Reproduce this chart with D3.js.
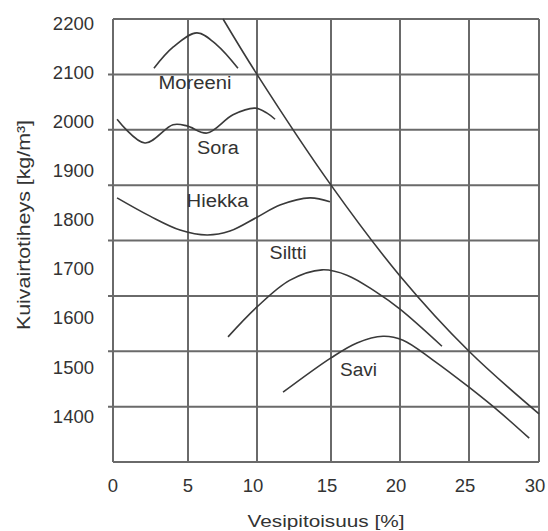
<!DOCTYPE html>
<html><head><meta charset="utf-8">
<script src="https://cdn.jsdelivr.net/npm/d3@7"></script>
<style>body{margin:0;background:#fff}svg{display:block}text{font-family:"Liberation Sans",Arial,sans-serif;fill:#333}</style>
</head><body><svg id="c" width="548" height="531"></svg>
<script>
// Data
const xTicks = [0, 5, 10, 15, 20, 25, 30];
const yTicks = [1400, 1500, 1600, 1700, 1800, 1900, 2000, 2100, 2200];
const xTitle = "Vesipitoisuus [%]";
const yTitle = "Kuivairtotiheys [kg/m³]";

const moreeniW = [2.73, 4.0, 5.65, 7.1, 8.62];
const moreeniD = [2111, 2149, 2175, 2153, 2111];
const soraW = [0.27, 2.13, 4.0, 4.93, 6.38, 8.26, 9.86, 10.68, 11.22];
const soraD = [2019, 1976, 2009, 2007, 1994, 2027, 2039, 2030, 2019];
const hiekkaW = [0.27, 2.47, 4.47, 6.38, 8.04, 10, 11.55, 13.58, 14.93];
const hiekkaD = [1877, 1844, 1819, 1810, 1817, 1842, 1864, 1877, 1870];
const silttiW = [7.9, 10, 12.2, 14.4, 16.2, 18.2, 20, 23.04];
const silttiD = [1626, 1680, 1728, 1747, 1737, 1708, 1676, 1609];
const saviW = [11.76, 15, 16.88, 18.77, 20.22, 22.39, 25, 27.2, 29.3];
const saviD = [1526, 1588, 1615, 1627, 1620, 1584, 1535, 1490, 1443];
const zavW = [7.54, 10, 15, 20, 25, 30];
const zavD = [2200, 2100, 1900, 1736, 1600, 1487];

const labels = ["Moreeni", "Sora", "Hiekka", "Siltti", "Savi"];
const labelW = [5.5, 7.17, 7.14, 12.1, 16.99];
const labelD = [2074, 1956, 1860, 1767, 1555];

// Layout
const svg = d3.select("#c");
const x = d3.scaleLinear().domain(xTicks).range([113, 188, 257, 331, 400, 469, 539]);
const y = d3.scaleLinear().domain([1400, 2200]).range([462, 19]);
const yLab = d3.scaleLinear().domain([1400, 2200]).range([416, 23]);

const grid = svg.append("g").attr("stroke", "#6a6a6a").attr("stroke-width", 2).attr("fill", "none");
grid.selectAll("line.v").data(xTicks).join("line")
  .attr("x1", d => x(d)).attr("x2", d => x(d)).attr("y1", y(2200)).attr("y2", y(1400));
grid.selectAll("line.h").data(yTicks).join("line")
  .attr("x1", d => (d === 2200 || d === 1400) ? x(0) : x(0) - 5).attr("x2", x(30))
  .attr("y1", d => y(d)).attr("y2", d => y(d));

// tick labels
svg.append("g").selectAll("text").data(yTicks).join("text")
  .attr("x", 94).attr("y", d => yLab(d)).attr("dy", "0.36em")
  .attr("text-anchor", "end").attr("font-size", 18.5).text(d => d);
svg.append("g").selectAll("text").data(xTicks).join("text")
  .attr("x", d => x(d) - (d >= 10 ? 4 : 0)).attr("y", 492)
  .attr("text-anchor", "middle").attr("font-size", 18.5).text(d => d);

// axis titles
svg.append("text").attr("x", 326).attr("y", 527).attr("text-anchor", "middle")
  .attr("font-size", 17).attr("textLength", 157).attr("lengthAdjust", "spacingAndGlyphs").text(xTitle);
svg.append("text").attr("transform", "translate(30,225) rotate(-90)").attr("text-anchor", "middle")
  .attr("font-size", 19).attr("textLength", 210).attr("lengthAdjust", "spacingAndGlyphs").text(yTitle);

// curves
const line = d3.line().x(d => x(d[0])).y(d => y(d[1])).curve(d3.curveCatmullRom.alpha(0.5));
const series = [[moreeniW, moreeniD], [soraW, soraD], [hiekkaW, hiekkaD], [silttiW, silttiD], [saviW, saviD], [zavW, zavD]];
svg.append("g").attr("fill", "none").attr("stroke", "#3a3a3a").attr("stroke-width", 1.6)
  .selectAll("path").data(series).join("path")
  .attr("d", s => line(s[0].map((w, i) => [w, s[1][i]])));

// curve labels
const lenW = [73, 42, 62, 37, 37];
svg.append("g").selectAll("text").data(labels).join("text")
  .attr("x", (d, i) => x(labelW[i])).attr("y", (d, i) => y(labelD[i]))
  .attr("text-anchor", "middle").attr("font-size", 18)
  .attr("textLength", (d, i) => lenW[i]).attr("lengthAdjust", "spacingAndGlyphs")
  .text(d => d);
</script></body></html>
